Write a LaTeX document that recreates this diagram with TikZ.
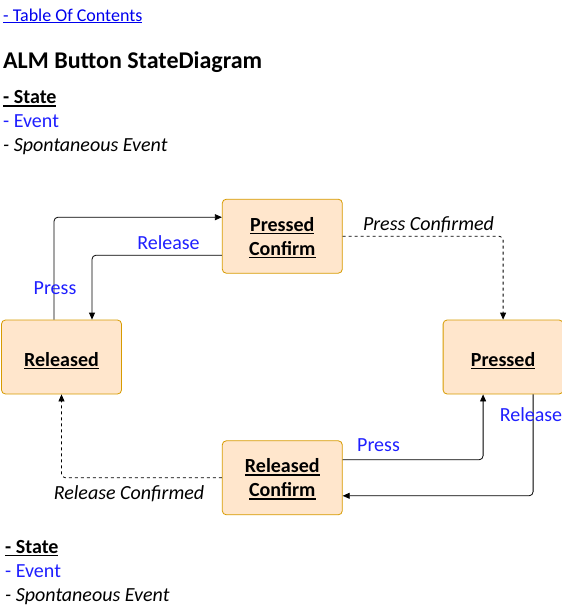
\documentclass[tikz,border=0pt]{standalone}
\usepackage{fontspec}
\setmainfont{Carlito}
\usetikzlibrary{positioning,arrows.meta}
\definecolor{statefill}{HTML}{FFE6CC}
\definecolor{stateline}{HTML}{D79B00}
\definecolor{eventblue}{HTML}{1F1FFF}
\definecolor{linkblue}{HTML}{0000EE}
\newcommand{\stul}[1]{\setbox0\hbox{#1}\rlap{\smash{\rule[-3pt]{\wd0}{1.3pt}}}\box0}
\tikzset{
  state/.style={draw=stateline, fill=statefill, rounded corners=4pt, line width=0.8pt,
    minimum width=120pt, minimum height=74pt, align=center,
    font=\fontsize{20}{24}\selectfont\bfseries,
    execute at begin node={\rule{0pt}{19pt}}},
  trans/.style={-{Triangle[length=7pt,width=6pt]}, line width=0.8pt, rounded corners=4pt},
  spont/.style={trans, dash pattern=on 3pt off 3pt},
  event/.style={text=eventblue, inner sep=0pt, anchor=base, font=\fontsize{20}{24}\selectfont},
  spontlabel/.style={inner sep=0pt, anchor=base, font=\fontsize{20}{24}\selectfont\itshape},
  legend/.style={inner sep=0pt, anchor=base west, font=\fontsize{20}{24}\selectfont},
}
\begin{document}
\begin{tikzpicture}[x=1pt,y=1pt]
    \useasboundingbox (0,0) rectangle (562,-606);

    % Header
    \node[legend, text=linkblue, font=\fontsize{18}{21}\selectfont] (toc) at (3,-21) {\underline{- Table Of Contents}};
    \node[legend, font=\fontsize{24}{28}\selectfont\bfseries] (title) at (3,-68.5) {ALM Button StateDiagram};
    \node[legend, font=\fontsize{20}{24}\selectfont\bfseries] (topstate) at (3,-103.5) {\stul{- State}};
    \node[legend, text=eventblue] (topevent) at (3,-127.7) {- Event};
    \node[legend, font=\fontsize{20}{24}\selectfont\itshape] (topspont) at (3,-151.7) {- Spontaneous Event};

    % Define nodes
    \node[state] (released) at (61.5,-357) {\stul{Released}};
    \node[state, above right=46pt and 100pt of released] (pconfirm) {\stul{Pressed}\\\stul{Confirm}};
    \node[state, below right=46pt and 100pt of pconfirm] (pressed) {\stul{Pressed}};
    \node[state, below right=46pt and 100pt of released] (rconfirm) {\stul{Released}\\\stul{Confirm}};

    % Connect nodes
    \draw[trans] ([xshift=-7.5pt]released.north) |- ([yshift=19pt]pconfirm.west);
    \draw[trans] ([yshift=-19pt]pconfirm.west) -| ([xshift=30.5pt]released.north);
    \draw[spont] (pconfirm.east) -| (pressed.north);
    \draw[trans] ([xshift=30pt]pressed.south) |- ([yshift=-18pt]rconfirm.east);
    \draw[trans] ([yshift=18pt]rconfirm.east) -| ([xshift=-20pt]pressed.south);
    \draw[spont] (rconfirm.west) -| (released.south);

    % Labels
    \node[event] (lpress) at (55,-294) {Press};
    \node[event] (lrelease) at (168.5,-249) {Release};
    \node[spontlabel] (lpconf) at (428.5,-230) {Press Confirmed};
    \node[event] (rrelease) at (531,-421) {Release};
    \node[event] (rpress) at (378.5,-451.7) {Press};
    \node[spontlabel] (lrconf) at (129,-499) {Release Confirmed};

    % Legend
    \node[legend, font=\fontsize{20}{24}\selectfont\bfseries] (botstate) at (5,-553.3) {\stul{- State}};
    \node[legend, text=eventblue] (botevent) at (5,-577.7) {- Event};
    \node[legend, font=\fontsize{20}{24}\selectfont\itshape] (botspont) at (5,-601) {- Spontaneous Event};
\end{tikzpicture}
\end{document}
